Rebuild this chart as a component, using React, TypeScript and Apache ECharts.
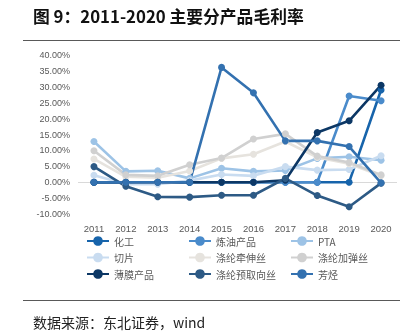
import React, { useEffect, useRef } from "react";
import * as echarts from "echarts";

const years = ["2011", "2012", "2013", "2014", "2015", "2016", "2017", "2018", "2019", "2020"];
const seriesNames = ["化工", "炼油产品", "PTA", "切片", "涤纶牵伸丝", "涤纶加弹丝", "薄膜产品", "涤纶预取向丝", "芳烃"];
const huagong = [0, 0, 0, 0, 0, 0, 0, 0, 0, 29.0];
const lianyou = [0, 0, 0, 0, 0, 0, 0, 0, 27.1, 25.6];
const pta = [12.8, 3.4, 3.6, 1.2, 4.4, 3.4, 3.7, 7.5, 8.0, 6.9];
const qiepian = [2.2, -0.6, -0.6, 0.5, 2.4, 2.0, 4.9, 3.8, 4.0, 8.3];
const qianshen = [7.3, 1.7, 1.4, 3.5, 7.5, 8.8, 12.8, 7.8, 5.8, 2.0];
const jiadan = [9.9, 2.3, 2.0, 5.5, 7.6, 13.6, 15.2, 8.2, 6.2, 2.3];
const bomo = [0, 0, 0, 0, 0, 0, 0.6, 15.6, 19.3, 30.5];
const yuquxiang = [4.9, -1.3, -4.6, -4.7, -4.1, -4.1, 1.2, -4.2, -7.7, -0.3];
const fangting = [0, 0, 0, 0, 36.1, 28.1, 13.0, 13.0, 11.2, -0.2];
const seriesData = [huagong, lianyou, pta, qiepian, qianshen, jiadan, bomo, yuquxiang, fangting];
const colors = ["#1764AB", "#4A8BCB", "#9DC3E6", "#C9DCF0", "#E6E3DE", "#D0D0D0", "#0C3765", "#2D5A85", "#3371B0"];

export default function App() {
  const ref = useRef<HTMLDivElement>(null);
  useEffect(() => {
    const chart = echarts.init(ref.current!, undefined, { renderer: "svg" });
    const colX = [86, 188, 290];
    const rowY = [241, 257.5, 274];
    const legends = seriesNames.map((n, i) => ({
      data: [n],
      left: colX[i % 3],
      top: rowY[Math.floor(i / 3)] - 6,
      padding: 0,
      itemWidth: 22,
      itemHeight: 12,
      textStyle: { fontSize: 10, color: "#595959", lineHeight: 12, fontFamily: "Noto Sans CJK SC" },
    }));
    chart.setOption({
      animation: false,
      color: colors,
      legend: legends,
      grid: { left: 78, right: 17, top: 55, bottom: 122, containLabel: false },
      xAxis: {
        type: "category",
        data: years,
        boundaryGap: true,
        axisLine: { show: false },
        axisTick: { show: false },
        axisLabel: { fontSize: 9.5, color: "#595959", margin: 9, fontFamily: "Liberation Sans" },
      },
      yAxis: {
        type: "value",
        min: -10,
        max: 40,
        interval: 5,
        axisLine: { show: false },
        axisTick: { show: false },
        splitLine: { show: false },
        axisLabel: {
          fontSize: 9,
          color: "#595959",
          margin: 8,
          fontFamily: "Liberation Sans",
          formatter: (v: number) => v.toFixed(2) + "%",
        },
      },
      graphic: [
        {
          type: "text",
          left: 33,
          top: 8,
          style: { text: "图 9：2011-2020 主要分产品毛利率", fontSize: 16.8, fontWeight: "bold", fill: "#111", fontFamily: "Noto Sans CJK SC" },
        },
        { type: "line", shape: { x1: 23, y1: 40.5, x2: 400, y2: 40.5 }, style: { stroke: "#595959", lineWidth: 1 } },
        { type: "line", shape: { x1: 23, y1: 300.5, x2: 400, y2: 300.5 }, style: { stroke: "#595959", lineWidth: 1 } },
        {
          type: "text",
          left: 33,
          top: 315,
          style: { text: "数据来源：东北证券，wind", fontSize: 14, fill: "#222", fontFamily: "Noto Sans CJK SC" },
        },
      ],
      series: seriesNames.map((n, i) => ({
        name: n,
        type: "line",
        data: seriesData[i],
        symbol: "circle",
        symbolSize: 7,
        lineStyle: { width: 2.6, color: colors[i] },
        itemStyle: { color: colors[i] },
        ...(i === 0
          ? {
              markLine: {
                silent: true,
                symbol: "none",
                z: 1,
                label: { show: false },
                lineStyle: { color: "#D9D9D9", width: 1, type: "solid" },
                data: [{ yAxis: 0 }],
              },
            }
          : {}),
      })),
    });
    return () => chart.dispose();
  }, []);
  return <div ref={ref} style={{ position: "fixed", left: 0, top: 0, width: 414, height: 336 }} />;
}
